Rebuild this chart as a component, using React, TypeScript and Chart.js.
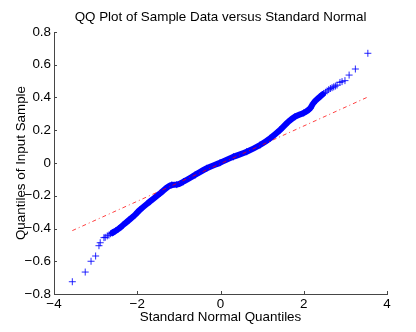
import React, { useEffect, useRef } from 'react';
import { Chart, registerables } from 'chart.js';

Chart.register(...registerables);

const TITLE = 'QQ Plot of Sample Data versus Standard Normal';
const X_LABEL = 'Standard Normal Quantiles';
const Y_LABEL = 'Quantiles of Input Sample';

const X_TICKS = [-4, -2, 0, 2, 4];
const Y_TICKS = [-0.8, -0.6, -0.4, -0.2, 0, 0.2, 0.4, 0.6, 0.8];

// dense central part of the sample quantiles
const BAND_X = [-2.6, -2.45, -2.34, -2.2, -2.06, -1.94, -1.7, -1.45, -1.17, -1.05, -0.89, -0.61, -0.33, -0.01, 0.31, 0.63, 0.95, 1.19, 1.43, 1.63, 1.79, 2.0, 2.15, 2.23, 2.39, 2.45];
const BAND_Y = [-0.427, -0.402, -0.379, -0.349, -0.318, -0.287, -0.236, -0.185, -0.134, -0.132, -0.114, -0.073, -0.032, 0.002, 0.038, 0.069, 0.11, 0.151, 0.202, 0.252, 0.283, 0.306, 0.333, 0.365, 0.405, 0.418];

// individually visible sample points in the tails
const TAIL_X = [-3.56, -3.25, -3.11, -3.0, -2.92, -2.89, -2.8, -2.77, -2.72, -2.68, -2.64, -2.58, -2.52, 2.48, 2.52, 2.56, 2.6, 2.64, 2.68, 2.72, 2.76, 2.8, 2.87, 2.92, 2.99, 3.09, 3.24, 3.54];
const TAIL_Y = [-0.725, -0.666, -0.6, -0.568, -0.505, -0.487, -0.456, -0.454, -0.445, -0.44, -0.432, -0.424, -0.414, 0.425, 0.432, 0.44, 0.448, 0.455, 0.46, 0.465, 0.47, 0.476, 0.492, 0.497, 0.503, 0.537, 0.574, 0.67];

// reference line through the quartiles
const REF_X = [-3.56, 3.54];
const REF_Y = [-0.413, 0.403];

const FONT_FAMILY = '"Liberation Sans", Arial, Helvetica, sans-serif';
const FONT_SIZE = 13.4;

const fmtY = (v: number) => {
  const r = Math.round(v * 10) / 10;
  if (r === 0) return '0';
  return r.toFixed(1).replace('-', '\u2212');
};
const fmtX = (v: number) => {
  const r = Math.round(v);
  return String(r).replace('-', '\u2212');
};

const matlabDecor = {
  id: 'matlabDecor',
  afterDraw(chart: any) {
    const { ctx, chartArea, scales } = chart;
    const len = 3;
    ctx.save();
    ctx.strokeStyle = 'rgb(70,70,70)';
    ctx.lineWidth = 1;
    ctx.beginPath();
    Y_TICKS.forEach((v) => {
      const py = Math.round(scales.y.getPixelForValue(v)) + 0.5;
      ctx.moveTo(chartArea.left, py);
      ctx.lineTo(chartArea.left + len, py);
    });
    X_TICKS.forEach((v) => {
      const px = Math.round(scales.x.getPixelForValue(v)) + 0.5;
      ctx.moveTo(px, chartArea.bottom);
      ctx.lineTo(px, chartArea.bottom - len);
    });
    ctx.stroke();
    // title centred over the plot area
    ctx.fillStyle = '#000';
    ctx.font = `${FONT_SIZE}px ${FONT_FAMILY}`;
    ctx.textAlign = 'center';
    ctx.textBaseline = 'alphabetic';
    ctx.fillText(TITLE, (chartArea.left + chartArea.right) / 2, chartArea.top - 11);
    ctx.restore();
  },
};

export default function App() {
  const ref = useRef<HTMLCanvasElement | null>(null);

  useEffect(() => {
    if (!ref.current) return;
    const font = { family: FONT_FAMILY, size: FONT_SIZE, lineHeight: 1.2 };
    const chart = new Chart(ref.current, {
      type: 'scatter',
      data: {
        datasets: [
          {
            label: 'reference',
            data: REF_X.map((x, i) => ({ x, y: REF_Y[i] })),
            showLine: true,
            borderColor: 'rgba(255,0,0,0.75)',
            borderWidth: 1,
            borderDash: [4, 3, 1, 3],
            pointRadius: 0,
          },
          {
            label: 'tails',
            data: TAIL_X.map((x, i) => ({ x, y: TAIL_Y[i] })),
            pointStyle: 'cross',
            pointRadius: 3.5,
            pointBorderWidth: 1,
            borderColor: 'rgba(0,0,255,0.85)',
            backgroundColor: 'rgba(0,0,255,0.85)',
            showLine: false,
          },
          {
            label: 'sample',
            data: BAND_X.map((x, i) => ({ x, y: BAND_Y[i] })),
            showLine: true,
            cubicInterpolationMode: 'monotone',
            borderColor: 'rgb(0,0,255)',
            borderWidth: 6,
            borderCapStyle: 'round',
            borderJoinStyle: 'round',
            pointStyle: 'cross',
            pointRadius: 3.5,
            pointBorderWidth: 1,
            pointBorderColor: 'rgb(0,0,255)',
          },
        ],
      },
      options: {
        animation: false,
        responsive: false,
        devicePixelRatio: 1,
        layout: { padding: { top: 32, right: 29, bottom: 0, left: 0 } },
        plugins: {
          legend: { display: false },
          tooltip: { enabled: false },
          title: { display: false },
        },
        scales: {
          x: {
            type: 'linear',
            min: -4,
            max: 4,
            afterBuildTicks: (s: any) => {
              s.ticks = X_TICKS.map((value) => ({ value }));
            },
            afterFit: (s: any) => {
              s.height = 38;
            },
            grid: { display: false, drawTicks: false },
            border: { display: true, color: 'rgb(70,70,70)', width: 1 },
            ticks: {
              color: '#000',
              font,
              padding: 2,
              maxRotation: 0,
              callback: (v: any) => fmtX(Number(v)),
            },
            title: {
              display: true,
              text: X_LABEL,
              color: '#000',
              font,
              padding: { top: 0, bottom: 7 },
            },
          },
          y: {
            type: 'linear',
            min: -0.8,
            max: 0.8,
            afterBuildTicks: (s: any) => {
              s.ticks = Y_TICKS.map((value) => ({ value }));
            },
            afterFit: (s: any) => {
              s.width = 54;
            },
            grid: { display: false, drawTicks: false },
            border: { display: true, color: 'rgb(70,70,70)', width: 1 },
            ticks: {
              color: '#000',
              font,
              padding: 3,
              callback: (v: any) => fmtY(Number(v)),
            },
            title: {
              display: true,
              text: Y_LABEL,
              color: '#000',
              font,
              padding: { top: 13, bottom: 0 },
            },
          },
        },
      },
      plugins: [matlabDecor],
    } as any);
    return () => chart.destroy();
  }, []);

  return (
    <div style={{ position: 'fixed', left: 0, top: 0, width: 416, height: 332, background: '#fff' }}>
      <canvas ref={ref} width={416} height={332} style={{ width: 416, height: 332, display: 'block' }} />
    </div>
  );
}
